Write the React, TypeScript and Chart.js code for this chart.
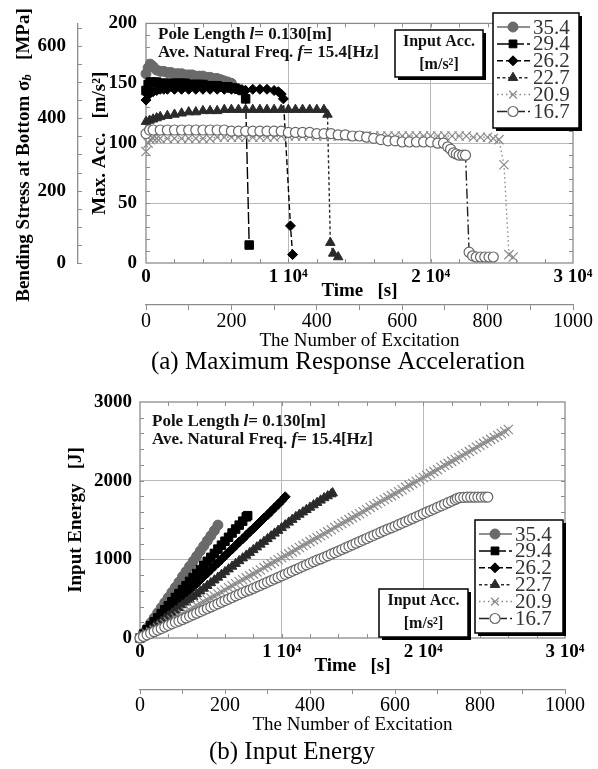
import React, { useEffect, useRef } from "react";
import { Chart, registerables } from "chart.js";

Chart.register(...registerables);

const FONT = "'Liberation Serif', 'Times New Roman', Times, serif";
Chart.defaults.font.family = FONT;
Chart.defaults.color = "#000";

type Pt = [number, number];

const SERIES_LABELS = ["35.4", "29.4", "26.2", "22.7", "20.9", "16.7"];

// ---------- (a) Maximum response acceleration [m/s^2] vs time [s] ----------
const ACC_354: Pt[] = [[0,158],[150,163],[300,166],[500,164],[750,161],[1000,160],[1250,160],[1500,159],[1750,159],[2000,158],[2250,158],[2500,158],[2750,157],[3000,157],[3250,157],[3500,156],[3750,156],[4000,156],[4250,155],[4500,155],[4750,154],[5000,154],[5250,153],[5500,152],[5750,151],[6000,150]];
const ACC_294: Pt[] = [[0,144],[150,149],[300,151],[500,151],[750,151],[1000,150],[1250,150],[1500,150],[1750,150],[2000,150],[2250,150],[2500,150],[2750,150],[3000,149],[3250,149],[3500,149],[3750,149],[4000,149],[4250,148],[4500,148],[4750,148],[5000,148],[5250,147],[5500,147],[5750,147],[6000,146],[6250,146],[6500,145],[6750,144],[7000,137],[7250,15]];
const ACC_262: Pt[] = [[0,136],[150,140],[300,142],[500,143],[750,144],[1000,145],[1250,145],[1500,145],[2000,145],[2500,145],[3000,145],[3500,145],[4000,145],[4500,145],[5000,145],[5500,145],[6000,145],[6500,145],[7000,144],[7500,145],[8000,145],[8500,145],[9000,144],[9300,143],[9500,141],[9650,137],[10150,31],[10300,7]];
const ACC_227: Pt[] = [[0,118],[250,119],[500,120],[750,121],[1000,122],[1500,123],[2000,124],[2500,125],[3000,126],[3500,126],[4000,127],[4500,127],[5000,127],[5500,128],[6000,128],[6500,128],[7000,128],[7500,128],[8000,128],[8500,128],[9000,128],[9500,128],[10000,128],[10500,128],[11000,128],[11500,128],[12000,128],[12500,128],[12750,124],[12950,17],[13150,8],[13500,5]];
const ACC_209: Pt[] = [[0,93],[150,100],[300,103],[500,104],[750,104],[1000,104],[1500,104],[2000,104],[2500,104],[3000,104],[3500,104],[4000,104],[4500,104],[5000,105],[5500,105],[6000,105],[6500,105],[7000,105],[7500,105],[8000,105],[8500,105],[9000,105],[9500,106],[10000,106],[10500,106],[11000,106],[11500,106],[12000,106],[12500,106],[13000,106],[13500,106],[14000,106],[14500,106],[15000,106],[15500,106],[16000,106],[16500,106],[17000,106],[17500,106],[18000,106],[18500,106],[19000,106],[19500,106],[20000,106],[20500,106],[21000,106],[21500,106],[22000,106],[22500,106],[23000,105],[23500,105],[24000,105],[24400,104],[24800,103],[25150,82],[25500,7],[25800,5]];
const ACC_167: Pt[] = [[0,108],[250,111],[500,111],[1000,111],[1500,111],[2000,111],[2500,111],[3000,111],[3500,111],[4000,111],[4500,111],[5000,111],[5500,111],[6000,110],[6500,110],[7000,110],[7500,110],[8000,110],[8500,110],[9000,110],[9500,110],[10000,109],[10500,109],[11000,109],[11500,109],[12000,108],[12500,108],[13000,108],[13500,107],[14000,107],[14500,106],[15000,106],[15500,105],[16000,104],[16500,103],[17000,102],[17500,102],[18000,101],[18500,101],[19000,101],[19500,101],[20000,101],[20500,100],[20900,100],[21200,97],[21400,95],[21600,92],[21800,91],[22000,90],[22250,90],[22450,90],[22700,9],[22950,6],[23200,5],[23500,5],[23800,5],[24100,5],[24400,5]];

// ---------- (b) Input energy [J] vs time [s] ----------
const EN_354: Pt[] = [[0,0],[250,60],[500,125],[750,190],[1000,255],[1250,320],[1500,385],[1750,450],[2000,515],[2250,580],[2500,645],[2750,710],[3000,780],[3250,845],[3500,910],[3750,975],[4000,1040],[4250,1105],[4500,1170],[4750,1235],[5000,1300],[5250,1365],[5500,1435]];
const EN_294: Pt[] = [[0,0],[250,50],[500,105],[750,155],[1000,205],[1250,255],[1500,310],[1750,360],[2000,410],[2250,460],[2500,515],[2750,565],[3000,615],[3250,665],[3500,720],[3750,770],[4000,820],[4250,870],[4500,925],[4750,975],[5000,1025],[5250,1075],[5500,1130],[5750,1180],[6000,1230],[6250,1280],[6500,1335],[6750,1385],[7000,1435],[7250,1485],[7500,1540],[7600,1555]];
const EN_262: Pt[] = [[0,0],[250,45],[500,85],[750,130],[1000,175],[1250,220],[1500,260],[1750,305],[2000,350],[2250,390],[2500,435],[2750,480],[3000,520],[3250,565],[3500,610],[3750,655],[4000,695],[4250,740],[4500,785],[4750,825],[5000,870],[5250,915],[5500,955],[5750,1000],[6000,1045],[6250,1090],[6500,1130],[6750,1175],[7000,1220],[7250,1260],[7500,1305],[7750,1350],[8000,1390],[8250,1435],[8500,1480],[8750,1525],[9000,1565],[9250,1610],[9500,1655],[9750,1700],[10000,1745],[10250,1795]];
const EN_227: Pt[] = [[0,0],[250,35],[500,70],[750,105],[1000,140],[1250,175],[1500,210],[1750,245],[2000,280],[2250,315],[2500,350],[2750,385],[3000,420],[3250,455],[3500,490],[3750,525],[4000,560],[4250,595],[4500,630],[4750,665],[5000,700],[5250,735],[5500,770],[5750,805],[6000,840],[6250,875],[6500,910],[6750,945],[7000,980],[7250,1015],[7500,1050],[7750,1085],[8000,1120],[8250,1155],[8500,1190],[8750,1225],[9000,1260],[9250,1295],[9500,1330],[9750,1365],[10000,1400],[10250,1435],[10500,1470],[10750,1505],[11000,1540],[11250,1570],[11500,1600],[11750,1630],[12000,1660],[12250,1690],[12500,1720],[12750,1750],[13000,1780],[13250,1805],[13500,1830],[13600,1842]];
const EN_209: Pt[] = [[0,0],[250,25],[500,50],[750,75],[1000,100],[1250,130],[1500,155],[1750,180],[2000,205],[2250,230],[2500,255],[2750,280],[3000,305],[3250,330],[3500,355],[3750,385],[4000,410],[4250,435],[4500,460],[4750,485],[5000,510],[5250,535],[5500,560],[5750,585],[6000,610],[6250,640],[6500,665],[6750,690],[7000,715],[7250,740],[7500,765],[7750,790],[8000,815],[8250,840],[8500,865],[8750,895],[9000,920],[9250,945],[9500,970],[9750,995],[10000,1020],[10250,1045],[10500,1070],[10750,1095],[11000,1120],[11250,1150],[11500,1175],[11750,1200],[12000,1225],[12250,1250],[12500,1275],[12750,1300],[13000,1325],[13250,1350],[13500,1375],[13750,1405],[14000,1430],[14250,1455],[14500,1480],[14750,1505],[15000,1530],[15250,1555],[15500,1580],[15750,1605],[16000,1630],[16250,1660],[16500,1685],[16750,1710],[17000,1735],[17250,1760],[17500,1785],[17750,1810],[18000,1835],[18250,1860],[18500,1885],[18750,1915],[19000,1940],[19250,1965],[19500,1990],[19750,2015],[20000,2040],[20250,2065],[20500,2090],[20750,2115],[21000,2140],[21250,2170],[21500,2195],[21750,2220],[22000,2245],[22250,2270],[22500,2295],[22750,2320],[23000,2345],[23250,2370],[23500,2395],[23750,2425],[24000,2450],[24250,2475],[24500,2500],[24750,2525],[25000,2550],[25250,2575],[25500,2600],[25750,2625],[26000,2650]];
const EN_167: Pt[] = [[0,0],[250,20],[500,40],[750,60],[1000,80],[1250,100],[1500,120],[1750,140],[2000,160],[2250,180],[2500,200],[2750,215],[3000,235],[3250,255],[3500,275],[3750,295],[4000,315],[4250,335],[4500,355],[4750,375],[5000,395],[5250,415],[5500,435],[5750,455],[6000,475],[6250,495],[6500,515],[6750,535],[7000,555],[7250,575],[7500,595],[7750,610],[8000,630],[8250,650],[8500,670],[8750,690],[9000,710],[9250,730],[9500,750],[9750,770],[10000,790],[10250,810],[10500,830],[10750,850],[11000,870],[11250,890],[11500,910],[11750,930],[12000,950],[12250,970],[12500,990],[12750,1005],[13000,1025],[13250,1045],[13500,1065],[13750,1085],[14000,1105],[14250,1125],[14500,1145],[14750,1165],[15000,1185],[15250,1205],[15500,1225],[15750,1245],[16000,1265],[16250,1285],[16500,1305],[16750,1325],[17000,1345],[17250,1365],[17500,1385],[17750,1400],[18000,1420],[18250,1440],[18500,1460],[18750,1480],[19000,1500],[19250,1520],[19500,1540],[19750,1560],[20000,1580],[20250,1600],[20500,1620],[20750,1640],[21000,1660],[21250,1680],[21500,1700],[21750,1720],[22000,1740],[22250,1760],[22400,1775],[22600,1785],[22850,1788],[23100,1790],[23350,1790],[23600,1790],[23850,1792],[24100,1792],[24350,1792],[24550,1792]];

// ---------- tick labels ----------
const TIME_LABEL_VALUES = [0, 10000, 20000, 30000];
const TIME_LABELS = ["0", "1 10\u2074", "2 10\u2074", "3 10\u2074"];
const ACC_LABEL_VALUES = [0, 50, 100, 150, 200];
const STRESS_LABEL_VALUES = [0, 200, 400, 600];
const ENERGY_LABEL_VALUES = [0, 1000, 2000, 3000];
const EXC_LABEL_VALUES = [0, 200, 400, 600, 800, 1000];

// ---------- styles ----------
const STYLES = [
  { line: "#6a6a6a", edge: "#6a6a6a", fill: "#6a6a6a", point: "circle", r: 5, pbw: 1, dash: [] as number[] },
  { line: "#000000", edge: "#000000", fill: "#000000", point: "rect", r: 6, pbw: 1, dash: [12, 3] },
  { line: "#000000", edge: "#000000", fill: "#000000", point: "rectRot", r: 5, pbw: 1, dash: [6, 3] },
  { line: "#2a2a2a", edge: "#2a2a2a", fill: "#2a2a2a", point: "triangle", r: 5.5, pbw: 1, dash: [3, 2.5] },
  { line: "#8a8a8a", edge: "#8a8a8a", fill: "#8a8a8a", point: "crossRot", r: 6.5, pbw: 1.2, dash: [1.5, 3] },
  { line: "#222222", edge: "#666666", fill: "#ffffff", point: "circle", r: 5, pbw: 1.2, dash: [10, 3, 2, 3] },
];

const GRID = "#b8b8b8";
const FRAME = "#8c8c8c";
const CLEAR = "rgba(0,0,0,0)";

function makeDatasets(series: Pt[][]) {
  return series.map((pts, i) => {
    const s = STYLES[i];
    return {
      label: SERIES_LABELS[i],
      data: pts.map(([x, y]) => ({ x, y })),
      showLine: true,
      borderColor: s.line,
      borderWidth: 1.4,
      borderDash: s.dash,
      pointStyle: s.point,
      pointRadius: s.r,
      pointBorderColor: s.edge,
      pointBackgroundColor: s.fill,
      pointBorderWidth: s.pbw,
      clip: false as any,
      order: 6 - i,
      xAxisID: "x",
      yAxisID: "y",
    };
  });
}

function labelFrom(values: number[], labels?: string[]) {
  return (v: any) => {
    const i = values.indexOf(Number(v));
    if (i < 0) return "";
    return labels ? labels[i] : String(values[i]);
  };
}

function drawMarker(ctx: CanvasRenderingContext2D, style: string, x: number, y: number, r: number, edge: string, fill: string, bw: number) {
  ctx.save();
  ctx.setLineDash([]);
  ctx.strokeStyle = edge;
  ctx.fillStyle = fill;
  ctx.lineWidth = bw;
  ctx.beginPath();
  if (style === "circle") {
    ctx.arc(x, y, r, 0, Math.PI * 2);
    ctx.fill();
    ctx.stroke();
  } else if (style === "rect") {
    const s = r * Math.SQRT1_2;
    ctx.rect(x - s, y - s, 2 * s, 2 * s);
    ctx.fill();
    ctx.stroke();
  } else if (style === "rectRot") {
    ctx.moveTo(x, y - r);
    ctx.lineTo(x + r, y);
    ctx.lineTo(x, y + r);
    ctx.lineTo(x - r, y);
    ctx.closePath();
    ctx.fill();
    ctx.stroke();
  } else if (style === "triangle") {
    for (let k = 0; k < 3; k++) {
      const a = (k * 2 * Math.PI) / 3;
      const px = x + Math.sin(a) * r;
      const py = y - Math.cos(a) * r;
      if (k === 0) ctx.moveTo(px, py);
      else ctx.lineTo(px, py);
    }
    ctx.closePath();
    ctx.fill();
    ctx.stroke();
  } else if (style === "crossRot") {
    const d = r * Math.SQRT1_2;
    ctx.moveTo(x - d, y - d);
    ctx.lineTo(x + d, y + d);
    ctx.moveTo(x + d, y - d);
    ctx.lineTo(x - d, y + d);
    ctx.stroke();
  }
  ctx.restore();
}

type Seg = { t: string; font: string; dy?: number };

function richWidth(ctx: CanvasRenderingContext2D, segs: Seg[]) {
  let w = 0;
  for (const s of segs) {
    ctx.font = s.font;
    w += ctx.measureText(s.t).width;
  }
  return w;
}

function drawRich(ctx: CanvasRenderingContext2D, segs: Seg[], x: number, y: number) {
  let cx = x;
  for (const s of segs) {
    ctx.font = s.font;
    ctx.fillText(s.t, cx, y + (s.dy || 0));
    cx += ctx.measureText(s.t).width;
  }
}

const B17 = `bold 17px ${FONT}`;
const BI17 = `italic bold 17px ${FONT}`;
const B16 = `bold 16px ${FONT}`;

type OverlayCfg = {
  textX: number;
  textY: number[];
  inputBox: { x: number; y: number; w: number; h: number };
  legendBox: { x: number; y: number; w: number; h: number };
  caption: { text: string; x: number; y: number };
  xMinorAxis: string;
  yMinorAxis: string;
  stressAxis?: string;
  stressTitle?: { x: number; y: number };
};

function makeOverlay(cfg: OverlayCfg) {
  return {
    id: "overlay",
    beforeDatasetsDraw(chart: any) {
      const ctx: CanvasRenderingContext2D = chart.ctx;
      const a = chart.chartArea;
      ctx.save();
      ctx.strokeStyle = FRAME;
      ctx.lineWidth = 1.3;
      ctx.strokeRect(a.left, a.top, a.right - a.left, a.bottom - a.top);
      const xs = chart.scales[cfg.xMinorAxis];
      const ys = chart.scales[cfg.yMinorAxis];
      ctx.lineWidth = 1;
      ctx.beginPath();
      for (const t of xs.ticks) {
        const px = Math.round(xs.getPixelForValue(t.value)) + 0.5;
        if (px <= a.left + 1 || px >= a.right - 1) continue;
        ctx.moveTo(px, a.bottom);
        ctx.lineTo(px, a.bottom - 4);
        ctx.moveTo(px, a.top);
        ctx.lineTo(px, a.top + 4);
      }
      for (const t of ys.ticks) {
        const py = Math.round(ys.getPixelForValue(t.value)) + 0.5;
        if (py <= a.top + 1 || py >= a.bottom - 1) continue;
        ctx.moveTo(a.left, py);
        ctx.lineTo(a.left + 4, py);
        ctx.moveTo(a.right, py);
        ctx.lineTo(a.right - 4, py);
      }
      ctx.stroke();
      if (cfg.stressAxis) {
        const ss = chart.scales[cfg.stressAxis];
        ctx.beginPath();
        for (const t of ss.ticks) {
          const py = Math.round(ss.getPixelForValue(t.value)) + 0.5;
          ctx.moveTo(ss.right, py);
          ctx.lineTo(ss.right + 4, py);
        }
        ctx.stroke();
      }
      ctx.restore();
    },
    afterDatasetsDraw(chart: any) {
      const ctx: CanvasRenderingContext2D = chart.ctx;
      ctx.save();
      ctx.fillStyle = "#111";
      ctx.textBaseline = "middle";
      ctx.textAlign = "left";
      drawRich(ctx, [
        { t: "Pole Length ", font: B17 },
        { t: "l", font: BI17 },
        { t: "= 0.130[m]", font: B17 },
      ], cfg.textX, cfg.textY[0]);
      drawRich(ctx, [
        { t: "Ave. Natural Freq. ", font: B17 },
        { t: "f", font: BI17 },
        { t: "= 15.4[Hz]", font: B17 },
      ], cfg.textX, cfg.textY[1]);

      const ib = cfg.inputBox;
      ctx.fillStyle = "#000";
      ctx.fillRect(ib.x + 3, ib.y + 3, ib.w, ib.h);
      ctx.fillStyle = "#fff";
      ctx.fillRect(ib.x, ib.y, ib.w, ib.h);
      ctx.strokeStyle = "#000";
      ctx.lineWidth = 1.5;
      ctx.strokeRect(ib.x, ib.y, ib.w, ib.h);
      ctx.fillStyle = "#111";
      ctx.textAlign = "center";
      ctx.font = B16;
      ctx.fillText("Input Acc.", ib.x + ib.w / 2, ib.y + 12);
      ctx.fillText("[m/s\u00b2]", ib.x + ib.w / 2, ib.y + 35);

      const lb = cfg.legendBox;
      ctx.fillStyle = "#000";
      ctx.fillRect(lb.x + 3, lb.y + 3, lb.w, lb.h);
      ctx.fillStyle = "#fff";
      ctx.fillRect(lb.x, lb.y, lb.w, lb.h);
      ctx.strokeStyle = "#000";
      ctx.lineWidth = 1.5;
      ctx.strokeRect(lb.x, lb.y, lb.w, lb.h);
      chart.data.datasets.forEach((ds: any, i: number) => {
        const cy = lb.y + 14 + i * 16.9;
        ctx.save();
        ctx.setLineDash(ds.borderDash || []);
        ctx.strokeStyle = ds.borderColor;
        ctx.lineWidth = 1.5;
        ctx.beginPath();
        ctx.moveTo(lb.x + 4, cy);
        ctx.lineTo(lb.x + 37, cy);
        ctx.stroke();
        ctx.restore();
        drawMarker(ctx, ds.pointStyle, lb.x + 20, cy, Math.min(ds.pointRadius, 5.5), ds.pointBorderColor, ds.pointBackgroundColor, ds.pointBorderWidth);
        ctx.fillStyle = "#333";
        ctx.textAlign = "left";
        ctx.font = `21px ${FONT}`;
        ctx.fillText(ds.label, lb.x + 40, cy + 1);
      });

      ctx.fillStyle = "#000";
      ctx.textAlign = "center";
      ctx.font = `25px ${FONT}`;
      ctx.fillText(cfg.caption.text, cfg.caption.x, cfg.caption.y);

      if (cfg.stressTitle) {
        const segs: Seg[] = [
          { t: "Bending Stress at Bottom \u03c3", font: `bold 19px ${FONT}` },
          { t: "b", font: `italic bold 13px ${FONT}`, dy: 4 },
          { t: "   [MPa]", font: `bold 19px ${FONT}` },
        ];
        ctx.translate(cfg.stressTitle.x, cfg.stressTitle.y);
        ctx.rotate(-Math.PI / 2);
        ctx.fillStyle = "#000";
        ctx.textAlign = "left";
        const w = richWidth(ctx, segs);
        drawRich(ctx, segs, -w / 2, 0);
      }
      ctx.restore();
    },
  };
}

function timeAxis(height: number, labelPad: number, titlePad: number) {
  return {
    type: "linear",
    position: "bottom",
    weight: 1,
    min: 0,
    max: 30000,
    ticks: {
      stepSize: 2000,
      autoSkip: false,
      maxRotation: 0,
      includeBounds: false,
      padding: labelPad,
      font: { size: 19, weight: "bold" },
      color: "#000",
      callback: labelFrom(TIME_LABEL_VALUES, TIME_LABELS),
    },
    grid: {
      drawTicks: false,
      lineWidth: 1,
      color: (c: any) => (c.tick && (c.tick.value === 10000 || c.tick.value === 20000) ? GRID : CLEAR),
    },
    border: { display: false },
    title: { display: true, text: "Time   [s]", font: { size: 19, weight: "bold" }, color: "#000", padding: { top: 0, bottom: titlePad } },
    afterFit: (s: any) => { s.height = height; },
  };
}

function excAxis(height: number, labelPad: number, titlePad: number, tickLen: number) {
  return {
    type: "linear",
    position: "bottom",
    weight: 2,
    min: 0,
    max: 1000,
    ticks: {
      stepSize: 100,
      autoSkip: false,
      maxRotation: 0,
      includeBounds: false,
      padding: labelPad,
      font: { size: 20 },
      color: "#000",
      callback: labelFrom(EXC_LABEL_VALUES),
    },
    grid: { drawOnChartArea: false, drawTicks: true, tickLength: tickLen, color: FRAME, lineWidth: 1 },
    border: { display: true, color: FRAME, width: 1.3 },
    title: { display: true, text: "The Number of Excitation", font: { size: 19 }, color: "#000", padding: { top: 0, bottom: titlePad } },
    afterFit: (s: any) => { s.height = height; },
  };
}

function topConfig(): any {
  return {
    type: "scatter",
    data: { datasets: makeDatasets([ACC_354, ACC_294, ACC_262, ACC_227, ACC_209, ACC_167]) },
    options: {
      responsive: false,
      animation: false,
      events: [],
      layout: { padding: { top: 20, right: 25, left: 0, bottom: 28 } },
      scales: {
        x: timeAxis(42, 2.6, 2.6),
        xExc: excAxis(47, 0, 0, 5),
        y: {
          type: "linear",
          position: "left",
          weight: 1,
          min: 0,
          max: 200,
          ticks: {
            stepSize: 10,
            autoSkip: false,
            padding: 9,
            font: { size: 19, weight: "bold" },
            color: "#000",
            callback: labelFrom(ACC_LABEL_VALUES),
          },
          grid: {
            drawTicks: false,
            lineWidth: 1,
            color: (c: any) => (c.tick && [50, 100, 150].includes(c.tick.value) ? GRID : CLEAR),
          },
          border: { display: false },
          title: { display: true, text: "Max. Acc.   [m/s\u00b2]", font: { size: 19, weight: "bold" }, color: "#000", padding: { top: 10.6, bottom: 0 } },
          afterFit: (s: any) => { s.width = 68; },
        },
        yS: {
          type: "linear",
          position: "left",
          weight: 2,
          min: 0,
          max: 662,
          ticks: {
            stepSize: 50,
            autoSkip: false,
            includeBounds: false,
            padding: 12,
            font: { size: 19, weight: "bold" },
            color: "#000",
            callback: labelFrom(STRESS_LABEL_VALUES),
          },
          grid: { display: false, drawTicks: false },
          border: { display: true, color: FRAME, width: 1.3 },
          title: { display: false },
          afterFit: (s: any) => { s.width = 78; },
        },
      },
      plugins: {
        legend: { display: false },
        tooltip: { enabled: false },
        title: { display: false },
      },
    },
    plugins: [
      makeOverlay({
        textX: 158,
        textY: [35, 53],
        inputBox: { x: 395, y: 30, w: 88, h: 47 },
        legendBox: { x: 493, y: 13, w: 86, h: 115 },
        caption: { text: "(a) Maximum Response Acceleration", x: 338, y: 362 },
        xMinorAxis: "x",
        yMinorAxis: "y",
        stressAxis: "yS",
        stressTitle: { x: 24, y: 155 },
      }),
    ],
  };
}

function bottomConfig(): any {
  return {
    type: "scatter",
    data: { datasets: makeDatasets([EN_354, EN_294, EN_262, EN_227, EN_209, EN_167]) },
    options: {
      responsive: false,
      animation: false,
      events: [],
      layout: { padding: { top: 22, right: 33, left: 0, bottom: 33 } },
      scales: {
        x: timeAxis(52, 2.6, 12.6),
        xExc: excAxis(46, 0, 0, 4),
        y: {
          type: "linear",
          position: "left",
          weight: 1,
          min: 0,
          max: 3000,
          ticks: {
            stepSize: 200,
            autoSkip: false,
            padding: 8,
            font: { size: 19, weight: "bold" },
            color: "#000",
            callback: labelFrom(ENERGY_LABEL_VALUES),
          },
          grid: {
            drawTicks: false,
            lineWidth: 1,
            color: (c: any) => (c.tick && [1000, 2000].includes(c.tick.value) ? GRID : CLEAR),
          },
          border: { display: false },
          title: { display: true, text: "Input Energy   [J]", font: { size: 19, weight: "bold" }, color: "#000", padding: { top: 64.6, bottom: 0 } },
          afterFit: (s: any) => { s.width = 140; },
        },
      },
      plugins: {
        legend: { display: false },
        tooltip: { enabled: false },
        title: { display: false },
      },
    },
    plugins: [
      makeOverlay({
        textX: 152,
        textY: [42, 60],
        inputBox: { x: 379, y: 209, w: 89, h: 48 },
        legendBox: { x: 475, y: 140, w: 88, h: 113 },
        caption: { text: "(b) Input Energy", x: 292, y: 372 },
        xMinorAxis: "x",
        yMinorAxis: "y",
      }),
    ],
  };
}

function ChartCanvas({ make, top, height }: { make: () => any; top: number; height: number }) {
  const ref = useRef<HTMLCanvasElement>(null);
  useEffect(() => {
    if (!ref.current) return;
    const chart = new Chart(ref.current, make());
    return () => chart.destroy();
  }, [make]);
  return (
    <canvas
      ref={ref}
      width={598}
      height={height}
      style={{ position: "absolute", left: 0, top, width: 598, height, display: "block" }}
    />
  );
}

export default function App() {
  return (
    <div style={{ position: "absolute", left: 0, top: 0, width: 598, height: 769, background: "#fff", overflow: "hidden" }}>
      <ChartCanvas make={topConfig} top={0} height={380} />
      <ChartCanvas make={bottomConfig} top={380} height={389} />
    </div>
  );
}
